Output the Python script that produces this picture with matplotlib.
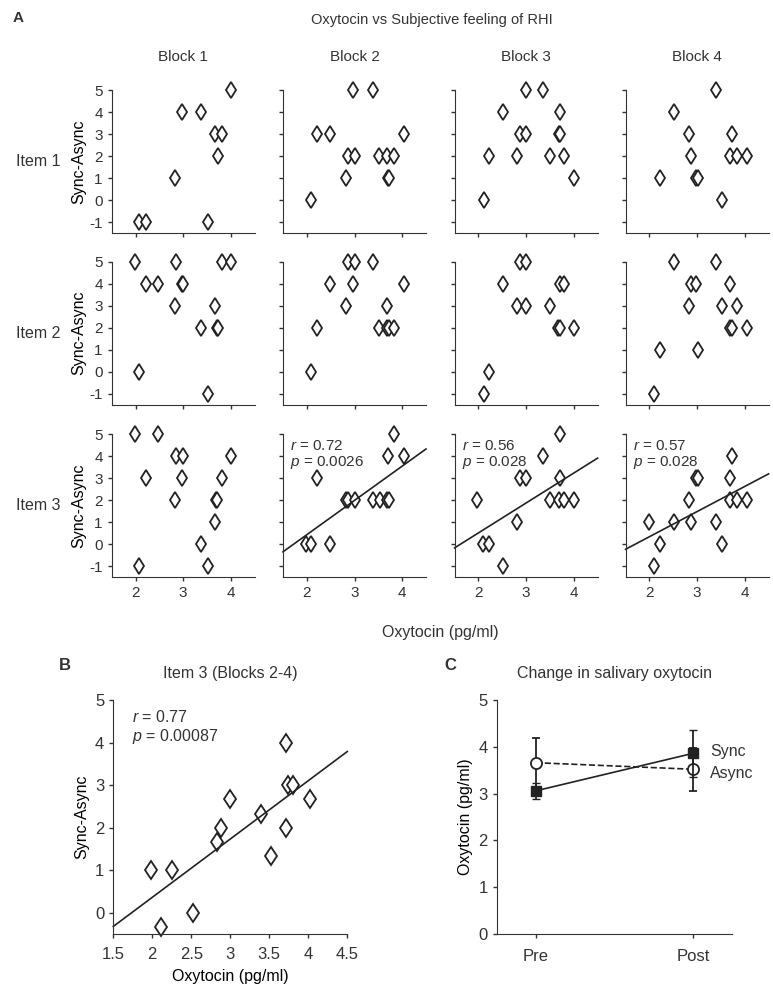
import numpy as np
import matplotlib
matplotlib.use("Agg")
import matplotlib.pyplot as plt

plt.rcParams['font.family'] = ['Liberation Sans', 'DejaVu Sans']
plt.rcParams['mathtext.fontset'] = 'custom'
plt.rcParams['mathtext.it'] = 'Liberation Sans:italic'
plt.rcParams['mathtext.rm'] = 'Liberation Sans'
plt.rcParams['axes.unicode_minus'] = False
plt.rcParams['text.color'] = '#333333'
plt.rcParams['axes.edgecolor'] = '#333333'
plt.rcParams['xtick.color'] = '#333333'
plt.rcParams['ytick.color'] = '#333333'

# panel A data: (oxytocin, sync-async) per item (row) and block (column)
x_i1_b1 = [2.08, 2.22, 2.82, 2.98, 3.37, 3.67, 3.81, 3.72, 3.52, 4.01]
y_i1_b1 = [-1, -1, 1, 4, 4, 3, 3, 2, -1, 5]
x_i1_b2 = [2.09, 2.21, 2.49, 2.83, 2.86, 3.0, 2.97, 3.38, 3.52, 3.68, 3.71, 3.73, 3.82, 4.03]
y_i1_b2 = [0, 3, 3, 1, 2, 2, 5, 5, 2, 2, 1, 1, 2, 3]
x_i1_b3 = [2.11, 2.23, 2.51, 2.81, 2.88, 2.99, 2.99, 3.36, 3.51, 3.71, 3.69, 3.72, 3.80, 4.01]
y_i1_b3 = [0, 2, 4, 2, 3, 3, 5, 5, 2, 4, 3, 3, 2, 1]
x_i1_b4 = [2.23, 2.51, 2.84, 2.88, 2.98, 3.02, 3.39, 3.52, 3.73, 3.70, 3.84, 4.04]
y_i1_b4 = [1, 4, 3, 2, 1, 1, 5, 0, 3, 2, 2, 2]

x_i2_b1 = [1.98, 2.08, 2.22, 2.48, 2.85, 2.82, 2.98, 3.0, 3.37, 3.52, 3.67, 3.70, 3.72, 3.81, 4.01]
y_i2_b1 = [5, 0, 4, 4, 5, 3, 4, 4, 2, -1, 3, 2, 2, 5, 5]
x_i2_b2 = [2.09, 2.21, 2.49, 2.83, 2.86, 3.0, 2.97, 3.38, 3.52, 3.68, 3.68, 3.72, 3.82, 4.03]
y_i2_b2 = [0, 2, 4, 3, 5, 5, 4, 5, 2, 3, 2, 2, 2, 4]
x_i2_b3 = [2.11, 2.23, 2.51, 2.81, 2.88, 2.99, 2.99, 3.51, 3.71, 3.80, 3.67, 3.71, 4.01]
y_i2_b3 = [-1, 0, 4, 3, 5, 5, 3, 3, 4, 4, 2, 2, 2]
x_i2_b4 = [2.10, 2.23, 2.51, 2.84, 2.87, 2.98, 3.02, 3.39, 3.52, 3.70, 3.84, 3.70, 3.73, 4.04]
y_i2_b4 = [-1, 1, 5, 3, 4, 4, 1, 5, 3, 4, 3, 2, 2, 2]

x_i3_b1 = [1.98, 2.08, 2.22, 2.48, 2.82, 2.85, 3.0, 2.98, 3.37, 3.52, 3.67, 3.69, 3.71, 3.81, 4.01]
y_i3_b1 = [5, -1, 3, 5, 2, 4, 4, 3, 0, -1, 1, 2, 2, 3, 4]
x_i3_b2 = [1.99, 2.08, 2.21, 2.49, 2.83, 2.86, 3.0, 3.38, 3.53, 3.68, 3.72, 3.71, 3.82, 4.03]
y_i3_b2 = [0, 0, 3, 0, 2, 2, 2, 2, 2, 2, 2, 4, 5, 4]
x_i3_b3 = [1.96, 2.09, 2.23, 2.51, 2.81, 2.88, 2.99, 3.36, 3.51, 3.71, 3.71, 3.69, 3.80, 4.01]
y_i3_b3 = [2, 0, 0, -1, 1, 3, 3, 4, 2, 5, 3, 2, 2, 2]
x_i3_b4 = [1.99, 2.10, 2.23, 2.51, 2.84, 2.88, 2.98, 3.02, 3.39, 3.52, 3.73, 3.70, 3.70, 3.84, 4.04]
y_i3_b4 = [1, -1, 0, 1, 2, 1, 3, 3, 1, 0, 4, 3, 2, 2, 2]

stats_b2 = ('0.72', '0.0026')
stats_b3 = ('0.56', '0.028')
stats_b4 = ('0.57', '0.028')

# panel B: item 3 averaged over blocks 2-4
x_b = [1.98, 2.11, 2.25, 2.52, 2.83, 2.88, 3.0, 3.39, 3.52, 3.71, 3.71, 3.74, 3.81, 4.02]
y_b = [1, -0.333, 1, 0, 1.667, 2, 2.667, 2.333, 1.333, 4, 2, 3, 3, 2.667]
stats_all = ('0.77', '0.00087')

# panel C: salivary oxytocin pre/post
conds = ['Pre', 'Post']
sync_mean = [3.06, 3.86]
sync_err = [0.17, 0.5]
async_mean = [3.66, 3.52]
async_err = [0.52, 0.46]

W, H = 773, 989
fig = plt.figure(figsize=(W / 100, H / 100), dpi=100)


def rect(l, t, r, b):
    return [l / W, 1 - b / H, (r - l) / W, (b - t) / H]


def style(ax):
    ax.spines['top'].set_visible(False)
    ax.spines['right'].set_visible(False)
    ax.tick_params(direction='out', length=3, width=1, labelsize=11)


grid = [
    [(x_i1_b1, y_i1_b1), (x_i1_b2, y_i1_b2), (x_i1_b3, y_i1_b3), (x_i1_b4, y_i1_b4)],
    [(x_i2_b1, y_i2_b1), (x_i2_b2, y_i2_b2), (x_i2_b3, y_i2_b3), (x_i2_b4, y_i2_b4)],
    [(x_i3_b1, y_i3_b1), (x_i3_b2, y_i3_b2), (x_i3_b3, y_i3_b3), (x_i3_b4, y_i3_b4)],
]
row_stats = [None, stats_b2, stats_b3, stats_b4]
lefts = [111.7, 283, 454.6, 625.6]
tops = [90, 261.7, 434.3]
pw, ph = 143, 143
xline = np.array([1.5, 4.5])

for i in range(3):
    for j in range(4):
        ax = fig.add_axes(rect(lefts[j], tops[i], lefts[j] + pw, tops[i] + ph))
        style(ax)
        xs, ys = grid[i][j]
        ax.plot(xs, ys, 'd', ms=8, mfc='white', mec='#222222', mew=1.3, clip_on=False)
        ax.set_xlim(1.5, 4.5)
        ax.set_ylim(-1.5, 5)
        ax.set_xticks([2, 3, 4])
        ax.set_yticks(range(-1, 6))
        if i < 2:
            ax.set_xticklabels([])
        if j > 0:
            ax.set_yticklabels([])
        else:
            ax.set_ylabel('Sync-Async', fontsize=11.5, labelpad=2)
        if i == 0:
            ax.set_title('Block %d' % (j + 1), fontsize=11, pad=21)
        if i == 2 and row_stats[j] is not None:
            k, c = np.polyfit(xs, ys, 1)
            ax.plot(xline, k * xline + c, color='#222222', lw=1.2, clip_on=False)
            r, p = row_stats[j]
            ax.text(0.05, 0.97, '$r$ = %s\n$p$ = %s' % (r, p), transform=ax.transAxes,
                    fontsize=11, va='top', ha='left', linespacing=1.1)
    fig.text(38 / W, 1 - (tops[i] + ph / 2) / H, 'Item %d' % (i + 1), fontsize=11.5,
             ha='center', va='center')

fig.text(432 / W, 1 - 20 / H, 'Oxytocin vs Subjective feeling of RHI', fontsize=10.5,
         ha='center', va='center')
fig.text(18 / W, 1 - 18 / H, 'A', fontsize=11, fontweight='bold', ha='center', va='center')
fig.text(440 / W, 1 - 632 / H, 'Oxytocin (pg/ml)', fontsize=11.5, ha='center', va='center')

# B
axb = fig.add_axes(rect(113.3, 700, 347.3, 934.3))
style(axb)
axb.tick_params(labelsize=12)
axb.tick_params(axis='x', pad=6)
axb.plot(x_b, y_b, 'd', ms=9.5, mfc='white', mec='#222222', mew=1.3, clip_on=False)
k, c = np.polyfit(x_b, y_b, 1)
axb.plot(xline, k * xline + c, color='#222222', lw=1.2, clip_on=False)
axb.set_xlim(1.5, 4.5)
axb.set_ylim(-0.5, 5)
axb.set_xticks([1.5, 2, 2.5, 3, 3.5, 4, 4.5])
axb.set_xticklabels(['1.5', '2', '2.5', '3', '3.5', '4', '4.5'])
axb.set_yticks(range(0, 6))
axb.set_xlabel('Oxytocin (pg/ml)', fontsize=11.5, labelpad=5)
axb.set_ylabel('Sync-Async', fontsize=11.5)
axb.set_title('Item 3 (Blocks 2-4)', fontsize=11.5, pad=16)
axb.text(0.08, 0.96, '$r$ = %s\n$p$ = %s' % stats_all, transform=axb.transAxes,
         fontsize=11.5, va='top', ha='left', linespacing=1.1)
fig.text(65 / W, 1 - 665 / H, 'B', fontsize=12, fontweight='bold', ha='center', va='center')

# C
axc = fig.add_axes(rect(496.7, 700, 732.3, 934))
style(axc)
axc.tick_params(labelsize=12)
xc = np.arange(1, len(conds) + 1)
axc.errorbar(xc, async_mean, yerr=async_err, fmt='--o', color='#222222', ms=8,
             mfc='white', mec='#222222', mew=1.3, lw=1.2, capsize=3, elinewidth=1.3, zorder=3)
axc.errorbar(xc, sync_mean, yerr=sync_err, fmt='-s', color='#222222', ms=7,
             mfc='#222222', lw=1.2, capsize=3, elinewidth=1.3, zorder=4)
axc.set_xlim(0.75, 2.25)
axc.set_ylim(0, 5)
axc.set_xticks(xc)
axc.set_xticklabels(conds)
axc.tick_params(axis='x', length=3, pad=8)
axc.set_yticks(range(0, 6))
axc.set_ylabel('Oxytocin (pg/ml)', fontsize=11.5)
axc.set_title('Change in salivary oxytocin', fontsize=11.5, pad=16)
axc.text(2.11, sync_mean[1] + 0.03, 'Sync', fontsize=11.5, va='center', ha='left')
axc.text(2.11, async_mean[1] - 0.1, 'Async', fontsize=11.5, va='center', ha='left')
fig.text(450 / W, 1 - 665 / H, 'C', fontsize=12, fontweight='bold', ha='center', va='center')

fig.savefig('out.png', dpi=100)
